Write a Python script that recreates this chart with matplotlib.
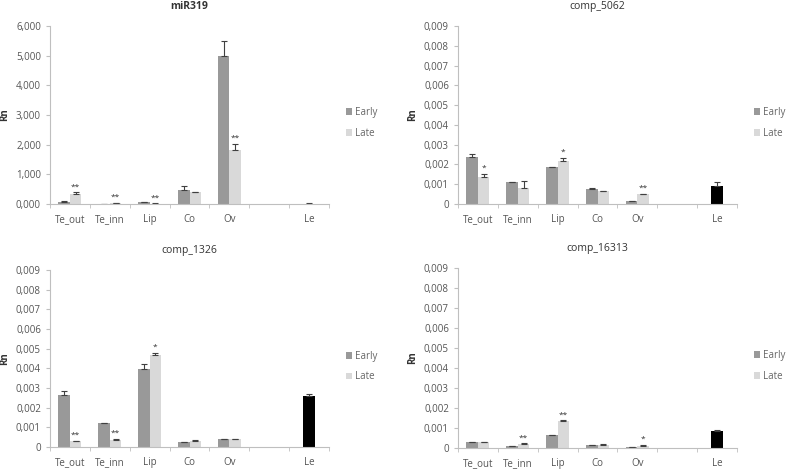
import numpy as np
import matplotlib.pyplot as plt

plt.rcParams['font.family'] = ['Open Sans', 'DejaVu Sans']

categories = ["Te_out", "Te_inn", "Lip", "Co", "Ov", "", "Le"]
pair_cats = ["Te_out", "Te_inn", "Lip", "Co", "Ov"]

# miR319
mir_early = [0.080, 0.010, 0.060, 0.480, 5.000]
mir_early_err = [0.010, 0.005, 0.012, 0.130, 0.480]
mir_late = [0.350, 0.030, 0.015, 0.400, 1.830]
mir_late_err = [0.040, 0.012, 0.005, 0.012, 0.190]
mir_le, mir_le_err = 0.015, 0.003
mir_sig = ["**", "**", "**", "", "**"]

# comp_5062
c5062_early = [0.00236, 0.00109, 0.00185, 0.00078, 0.00013]
c5062_early_err = [0.00017, 0.00001, 0.00002, 0.00002, 0.00003]
c5062_late = [0.00135, 0.00080, 0.00215, 0.00067, 0.00050]
c5062_late_err = [0.00018, 0.00036, 0.00020, 0.00001, 0.00003]
c5062_le, c5062_le_err = 0.00093, 0.00017
c5062_sig = ["*", "", "*", "", "**"]

# comp_1326
c1326_early = [0.00264, 0.00122, 0.00396, 0.00026, 0.00041]
c1326_early_err = [0.00020, 0.00002, 0.00024, 0.00001, 0.00002]
c1326_late = [0.00030, 0.00037, 0.00467, 0.00028, 0.00039]
c1326_late_err = [0.00002, 0.00003, 0.00010, 0.00006, 0.00002]
c1326_le, c1326_le_err = 0.00260, 0.00008
c1326_sig = ["**", "**", "*", "", ""]

# comp_16313
c16313_early = [0.00028, 0.00010, 0.00066, 0.00014, 0.00004]
c16313_early_err = [0.00002, 0.00001, 0.00001, 0.00001, 0.00001]
c16313_late = [0.00031, 0.00022, 0.00136, 0.00016, 0.00012]
c16313_late_err = [0.00001, 0.00001, 0.00002, 0.00002, 0.00002]
c16313_le, c16313_le_err = 0.00084, 0.00004
c16313_sig = ["", "**", "**", "", "*"]

EARLY = "#999999"
LATE = "#d9d9d9"
AXC = "#bfbfbf"


def comma_fmt(v, zero_plain):
    if v == 0 and zero_plain:
        return "0"
    return f"{v:.3f}".replace(".", ",")


def panel(fig, rect, title, bold, early, early_err, late, late_err, le, le_err,
          sig, ymax, step, zero_plain):
    ax = fig.add_axes(rect)
    x = np.arange(len(pair_cats))
    w = 0.29
    ekw = dict(ecolor="#404040", elinewidth=0.8, capsize=2.0, capthick=0.8)
    ax.bar(x - w / 2, early, w, color=EARLY, label="Early", zorder=2)
    ax.bar(x + w / 2, late, w, color=LATE, label="Late", zorder=2)
    ax.errorbar(x - w / 2, early, yerr=[np.zeros(5), early_err], fmt="none", **ekw)
    ax.errorbar(x + w / 2, late, yerr=[np.zeros(5), late_err], fmt="none", **ekw)
    le_x = categories.index("Le")
    ax.bar(le_x, le, 0.32, color="black", zorder=2)
    ax.errorbar(le_x, le, yerr=[[0], [le_err]], fmt="none", **ekw)
    for i, s in enumerate(sig):
        if s:
            ax.text(x[i] + w / 2, late[i] + late_err[i] + ymax * 0.012, s,
                    ha="center", va="bottom", fontsize=6, color="#333333")

    ax.set_xlim(-0.5, len(categories) - 0.5)
    ax.set_ylim(0, ymax)
    ticks = np.arange(0, ymax + step / 2, step)
    ax.set_yticks(ticks)
    ax.set_yticklabels([comma_fmt(t, zero_plain) for t in ticks])
    ax.set_xticks(np.arange(len(categories)))
    ax.set_xticklabels(categories)
    ax.set_xticks(np.arange(len(categories) + 1) - 0.5, minor=True)
    ax.tick_params(axis="x", which="major", length=0, pad=7)
    ax.tick_params(axis="x", which="minor", length=3, color=AXC, direction="out")
    ax.tick_params(axis="y", length=3, color=AXC, direction="out")
    ax.tick_params(labelsize=7, labelcolor="#555555")
    for s in ["top", "right"]:
        ax.spines[s].set_visible(False)
    for s in ["left", "bottom"]:
        ax.spines[s].set_color(AXC)
        ax.spines[s].set_linewidth(0.8)
    ax.set_ylabel("Rn", fontsize=7, fontweight="bold", color="#333333", labelpad=4)
    ax.set_title(title, fontsize=7.5, fontweight="bold" if bold else "normal",
                 color="#333333", pad=12)
    leg = ax.legend(loc="center left", bbox_to_anchor=(1.035, 0.455), frameon=False,
                    fontsize=7, handlelength=0.7, handleheight=0.7, handletextpad=0.25,
                    labelspacing=1.0, borderaxespad=0.3)
    for t in leg.get_texts():
        t.set_color("#666666")
    return ax


W, H = 787, 469
fig = plt.figure(figsize=(W / 100, H / 100), dpi=100)


def rect(l, r, t, b):
    return [l / W, (H - b) / H, (r - l) / W, (b - t) / H]


panel(fig, rect(50, 329, 26, 204), "miR319", True, mir_early, mir_early_err,
      mir_late, mir_late_err, mir_le, mir_le_err, mir_sig, 6.0, 1.0, False)
panel(fig, rect(458, 737, 26, 204), "comp_5062", False, c5062_early, c5062_early_err,
      c5062_late, c5062_late_err, c5062_le, c5062_le_err, c5062_sig, 0.009, 0.001, True)
panel(fig, rect(50, 329, 270, 447), "comp_1326", False, c1326_early, c1326_early_err,
      c1326_late, c1326_late_err, c1326_le, c1326_le_err, c1326_sig, 0.009, 0.001, True)
panel(fig, rect(458, 737, 268, 448), "comp_16313", False, c16313_early, c16313_early_err,
      c16313_late, c16313_late_err, c16313_le, c16313_le_err, c16313_sig, 0.009, 0.001, True)

fig.savefig("out.png", dpi=100)
